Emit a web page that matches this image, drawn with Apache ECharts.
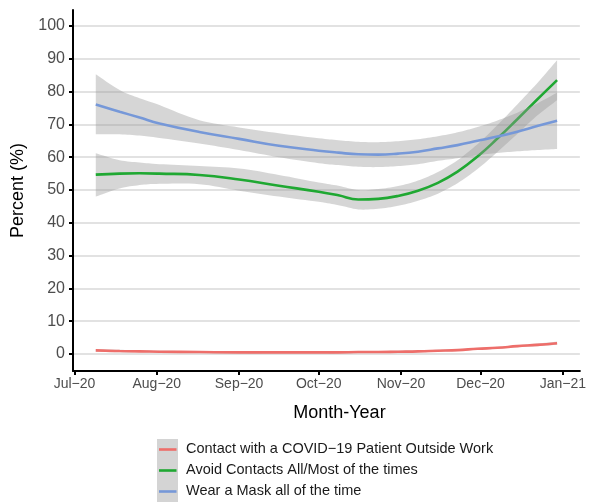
<!DOCTYPE html>
<html>
<head>
<meta charset="utf-8">
<title>Protective behaviours over time</title>
<script src="https://cdn.jsdelivr.net/npm/echarts@6/dist/echarts.min.js"></script>
<style>
  html, body { margin: 0; padding: 0; background: #ffffff; }
  #chart { width: 589px; height: 502px; }
</style>
</head>
<body>
<div id="chart"></div>
<script>
// Sample times of the smoothed trend lines (roughly every 7.5 days)
const dates = ['2020-07-09 00','2020-07-18 00','2020-07-25 12','2020-08-02 00','2020-08-17 00','2020-09-01 00',
  '2020-09-16 00','2020-10-01 00','2020-10-08 10','2020-10-15 22','2020-10-23 10','2020-10-30 22','2020-11-07 10',
  '2020-11-14 22','2020-11-22 08','2020-11-29 20','2020-12-07 08','2020-12-14 20','2020-12-22 08','2020-12-29 20'];

const seriesNames = [
  'Contact with a COVID\u221219 Patient Outside Work',
  'Avoid Contacts All/Most of the times',
  'Wear a Mask all of the time'
];

// Contact with a COVID-19 patient outside work (%)
const contactFit   = [1.1, 0.9, 0.8, 0.7, 0.6, 0.5, 0.5, 0.5, 0.5, 0.6, 0.6, 0.7, 0.8, 1.0, 1.2, 1.6, 1.9, 2.4, 2.8, 3.3];
const contactUpper = [1.5, 1.3, 1.1, 1.0, 0.9, 0.8, 0.8, 0.8, 0.8, 0.9, 0.9, 1.0, 1.1, 1.3, 1.5, 1.9, 2.2, 2.7, 3.2, 3.8];
const contactLower = [0.7, 0.5, 0.5, 0.4, 0.3, 0.2, 0.2, 0.2, 0.2, 0.3, 0.3, 0.4, 0.5, 0.7, 0.9, 1.3, 1.6, 2.1, 2.4, 2.8];

// Avoid contacts all/most of the times (%)
const avoidFit   = [54.7, 55.0, 55.1, 55.0, 54.6, 53.2, 51.3, 49.5, 48.4, 47.1, 47.3, 48.2, 49.8, 52.2, 55.6, 60.2, 65.7, 71.6, 77.6, 83.5];
const avoidUpper = [61.2, 59.1, 58.4, 57.9, 57.3, 56.6, 54.6, 52.3, 51.3, 50.0, 50.3, 51.2, 52.9, 55.5, 59.1, 64.0, 69.8, 76.1, 82.6, 89.6];
const avoidLower = [48.0, 50.5, 51.5, 51.9, 51.8, 49.8, 48.0, 46.4, 45.4, 44.1, 44.3, 45.2, 46.7, 48.9, 52.1, 56.4, 61.6, 67.1, 72.7, 77.4];

// Wear a mask all of the time (%)
const maskFit   = [76.1, 73.9, 72.1, 70.3, 67.7, 65.6, 63.5, 62.0, 61.4, 60.9, 60.8, 61.1, 61.7, 62.7, 63.7, 65.0, 66.3, 67.8, 69.5, 71.1];
const maskUpper = [85.3, 80.5, 78.0, 75.9, 71.3, 69.1, 67.3, 65.8, 65.2, 64.7, 64.6, 64.9, 65.5, 66.4, 67.6, 69.2, 71.2, 73.6, 76.4, 79.7];
const maskLower = [67.0, 67.0, 66.6, 65.9, 64.2, 62.2, 60.0, 58.2, 57.6, 57.1, 57.0, 57.3, 57.9, 58.9, 59.7, 60.6, 61.3, 61.8, 62.2, 62.5];

// Axis ticks
const yTicks = [0, 10, 20, 30, 40, 50, 60, 70, 80, 90, 100];
const xTickDates = ['2020-07-01 00','2020-08-01 00','2020-09-01 00','2020-10-01 00','2020-11-01 00','2020-12-01 00','2021-01-01 00'];
const monthAbbr = ['Jan','Feb','Mar','Apr','May','Jun','Jul','Aug','Sep','Oct','Nov','Dec'];

const lineColors = ['#EE6E6A', '#1FA832', '#7698D8'];
const bandFill = 'rgba(153,153,153,0.4)';
const FONT = '"Liberation Sans", Arial, Helvetica, sans-serif';

// 'YYYY-MM-DD HH' -> local timestamp
function toTime(s) {
  const [day, hour] = s.split(' ');
  const p = day.split('-').map(Number);
  return new Date(p[0], p[1] - 1, p[2], Number(hour || 0)).getTime();
}
const times = dates.map(toTime);
const pairs = (vals) => times.map((t, i) => [t, vals[i]]);

// Catmull-Rom spline through pixel points, used to draw the ribbon edges smoothly
function spline(pts, steps) {
  const out = [];
  const n = pts.length;
  for (let i = 0; i < n - 1; i++) {
    const p0 = pts[Math.max(i - 1, 0)], p1 = pts[i], p2 = pts[i + 1], p3 = pts[Math.min(i + 2, n - 1)];
    for (let s = 0; s < steps; s++) {
      const t = s / steps, t2 = t * t, t3 = t2 * t;
      const f = (a, b, c, d) => 0.5 * ((2 * b) + (-a + c) * t + (2 * a - 5 * b + 4 * c - d) * t2 + (-a + 3 * b - 3 * c + d) * t3);
      out.push([f(p0[0], p1[0], p2[0], p3[0]), f(p0[1], p1[1], p2[1], p3[1])]);
    }
  }
  out.push(pts[n - 1]);
  return out;
}

// Confidence ribbon drawn as one filled polygon (upper edge, then lower edge back)
function ribbonSeries(upper, lower, z) {
  return {
    type: 'custom',
    coordinateSystem: 'cartesian2d',
    silent: true,
    z: z,
    data: times.map((t, i) => [t, lower[i], upper[i]]),
    encode: { x: 0, y: [1, 2] },
    renderItem: (params, api) => {
      if (params.dataIndex !== 0) return null;
      const up = times.map((t, i) => api.coord([t, upper[i]]));
      const lo = times.map((t, i) => api.coord([t, lower[i]]));
      const points = spline(up, 8).concat(spline(lo, 8).reverse());
      return { type: 'polygon', shape: { points: points }, style: { fill: bandFill } };
    }
  };
}

const groups = [
  { fit: contactFit, upper: contactUpper, lower: contactLower },
  { fit: avoidFit, upper: avoidUpper, lower: avoidLower },
  { fit: maskFit, upper: maskUpper, lower: maskLower }
];

// Each group: ribbon first, then its fitted line; later groups paint over earlier ones
const series = [];
groups.forEach((g, k) => {
  series.push(ribbonSeries(g.upper, g.lower, 2 + k * 2));
  series.push({
    type: 'line', name: seriesNames[k], z: 3 + k * 2, smooth: 0.45, symbol: 'none', silent: true,
    data: pairs(g.fit), lineStyle: { color: lineColors[k], width: 2.6 }
  });
});

// Legend keys: grey ribbon swatch with a coloured line, then the label
const legendGraphics = [];
seriesNames.forEach((name, k) => {
  const top = 439 + k * 21;
  legendGraphics.push({ type: 'rect', left: 157, top: top, shape: { width: 21, height: 21 },
    style: { fill: '#d4d4d4' }, silent: true });
  legendGraphics.push({ type: 'line', shape: { x1: 159, y1: top + 10.5, x2: 176.5, y2: top + 10.5 },
    style: { stroke: lineColors[k], lineWidth: 2.6 }, silent: true });
  legendGraphics.push({ type: 'text', left: 186, top: top + 2.5,
    style: { text: name, font: '14.5px ' + FONT, fill: '#1a1a1a' }, silent: true });
});

const xTickValues = xTickDates.map(toTime);

const chart = echarts.init(document.getElementById('chart'), null, { renderer: 'canvas' });
chart.setOption({
  animation: false,
  backgroundColor: '#ffffff',
  grid: { left: 73, right: 6, top: 10, bottom: 131, containLabel: false },
  xAxis: {
    // timestamps on a linear axis, ticks at the first day of each month
    type: 'value',
    min: new Date(2020, 5, 30, 10).getTime(),
    max: new Date(2021, 0, 7, 10).getTime(),
    name: 'Month-Year',
    nameLocation: 'middle',
    nameGap: 33,
    nameTextStyle: { fontFamily: FONT, fontSize: 18, color: '#000', padding: [0, 0, 0, 26] },
    axisLine: { show: true, onZero: false, lineStyle: { color: '#000', width: 2 } },
    axisTick: { show: true, length: 4, lineStyle: { color: '#000', width: 2 }, customValues: xTickValues },
    axisLabel: {
      customValues: xTickValues,
      fontFamily: FONT, fontSize: 14, color: '#4d4d4d', margin: 6,
      formatter: (v) => {
        const d = new Date(v);
        return monthAbbr[d.getMonth()] + '\u2212' + String(d.getFullYear()).slice(2);
      }
    },
    splitLine: { show: false }
  },
  yAxis: {
    type: 'value',
    min: -5.18,
    max: 104.9,
    name: 'Percent (%)',
    nameLocation: 'middle',
    nameGap: 46,
    nameTextStyle: { fontFamily: FONT, fontSize: 18, color: '#000' },
    axisLine: { show: true, onZero: false, lineStyle: { color: '#000', width: 2 } },
    axisTick: { show: true, length: 4, lineStyle: { color: '#000', width: 2 }, customValues: yTicks },
    axisLabel: { customValues: yTicks, fontFamily: FONT, fontSize: 16, color: '#4d4d4d', margin: 8 },
    splitLine: { show: true, lineStyle: { color: '#d9d9d9', width: 1.5 } }
  },
  series: series,
  graphic: legendGraphics
});
</script>
</body>
</html>
